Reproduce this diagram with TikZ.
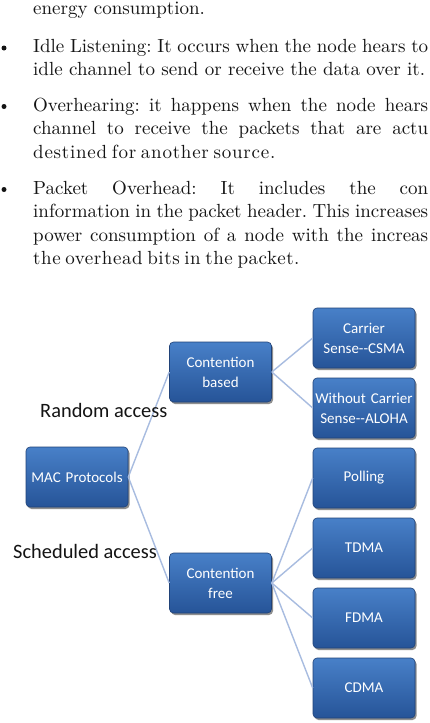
\documentclass[tikz,border=0pt]{standalone}
\usepackage{fontspec}
\setmainfont{lmroman10-regular}[Extension=.otf]
\setsansfont{Carlito}
\usetikzlibrary{shadows}
\definecolor{boxtop}{RGB}{72,128,200}
\definecolor{boxbot}{RGB}{38,84,152}
\definecolor{boxedge}{RGB}{32,66,120}
\definecolor{linkc}{RGB}{168,188,224}
\definecolor{ink}{RGB}{20,20,20}
\frenchspacing
\begin{document}
\begin{tikzpicture}[x=1pt,y=-1pt,
  para/.style={anchor=base west, inner sep=0pt, font=\fontsize{19}{23}\selectfont, text=ink},
  blt/.style={circle, fill=ink, inner sep=0pt, minimum size=5pt},
  mbox/.style={rectangle, rounded corners=4pt, top color=boxtop, bottom color=boxbot,
    draw=boxedge, line width=0.6pt, minimum width=102pt, minimum height=60pt,
    inner sep=0pt, text width=100pt, align=center, text=white,
    font=\sffamily\fontsize{15}{20}\selectfont,
    drop shadow={shadow xshift=1.5pt, shadow yshift=-2pt, opacity=0.55, fill=black!80}},
  link/.style={draw=linkc, line width=1.4pt},
  lab/.style={anchor=base west, inner sep=0pt, text=ink, font=\sffamily\fontsize{20.4}{24}\selectfont}]
\useasboundingbox (0,0) rectangle (429,723);
\clip (0,0) rectangle (429,723);
\fill[white] (0,0) rectangle (429,723);

% text paragraphs
\node[para] (t1) at (33,14) {energy consumption.};
\node[blt] (b1) at (4,48) {};
\node[para] (t2) at (33,52) {\makebox[395pt][s]{Idle Listening: It occurs when the node hears to}};
\node[para] (t3) at (33,75.5) {idle channel to send or receive the data over it.};
\node[blt] (b2) at (4,106.5) {};
\node[para] (t4) at (33,111) {\makebox[395pt][s]{Overhearing: it happens when the node hears}};
\node[para] (t5) at (33,134.5) {\makebox[395pt][s]{channel to receive the packets that are actu}};
\node[para] (t6) at (33,158) {\makebox[239pt][s]{\addfontfeature{LetterSpace=4}destined for another source.}};
\node[blt] (b3) at (4,189.5) {};
\node[para] (t7) at (33,194) {\makebox[395pt][s]{Packet Overhead: It includes the con}};
\node[para] (t8) at (33,217.5) {\makebox[395pt][s]{information in the packet header. This increases}};
\node[para] (t9) at (33,241) {\makebox[395pt][s]{power consumption of a node with the increas}};
\node[para] (t10) at (33,264.5) {\makebox[265pt][s]{\addfontfeature{LetterSpace=3}the overhead bits in the packet.}};

% boxes
\node[mbox] (mac) at (77,477) {MAC Protocols};
\node[mbox] (cb) at (220.5,372) {Contention\\based};
\node[mbox] (cf) at (220.5,583) {Contention\\free};
\node[mbox] (csma) at (364,338) {Carrier\\Sense-{}-CSMA};
\node[mbox] (aloha) at (364,408) {Without Carrier\\Sense-{}-ALOHA};
\node[mbox] (poll) at (364,478) {Polling};
\node[mbox] (tdma) at (364,548) {TDMA};
\node[mbox] (fdma) at (364,618) {FDMA};
\node[mbox] (cdma) at (364,688) {CDMA};

% connectors
\draw[link] (mac.east) -- (cb.west);
\draw[link] (mac.east) -- (cf.west);
\draw[link] (cb.east) -- (csma.west);
\draw[link] (cb.east) -- (aloha.west);
\draw[link] (cf.east) -- (poll.west);
\draw[link] (cf.east) -- (tdma.west);
\draw[link] (cf.east) -- (fdma.west);
\draw[link] (cf.east) -- (cdma.west);

% labels
\node[lab] (ra) at (40,417) {Random access};
\node[lab] (sa) at (13,558) {Scheduled access};
\end{tikzpicture}
\end{document}
